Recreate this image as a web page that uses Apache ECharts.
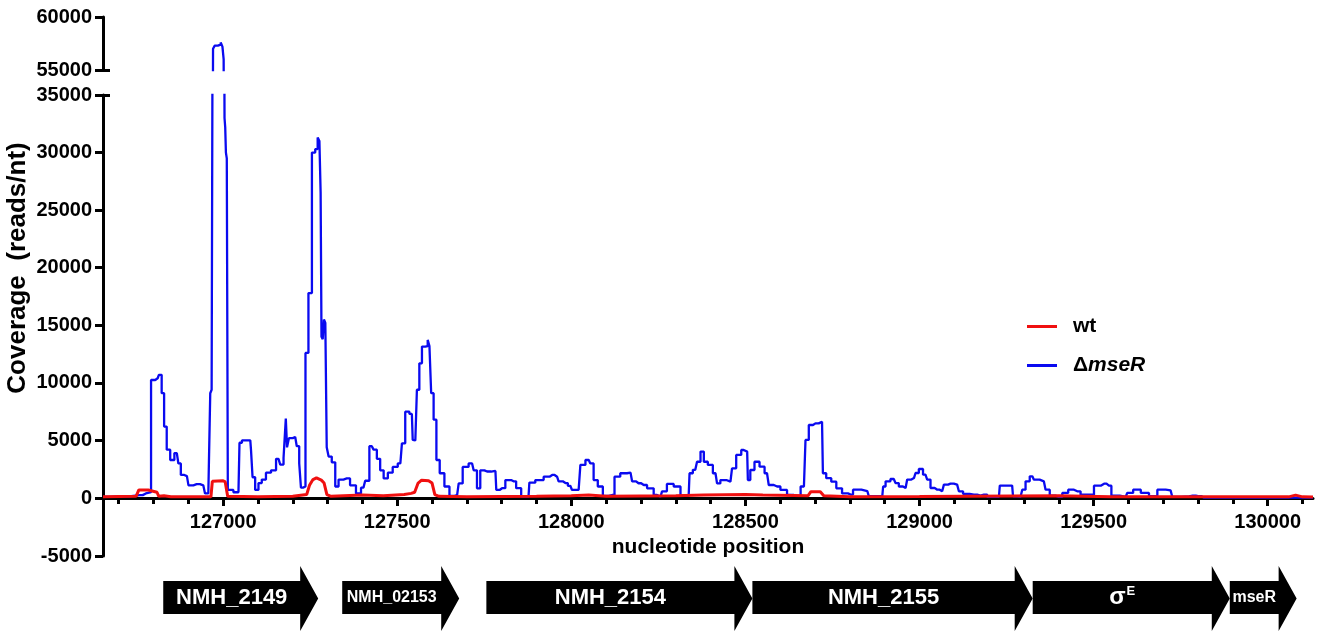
<!DOCTYPE html>
<html><head><meta charset="utf-8">
<script src="https://cdn.jsdelivr.net/npm/echarts@6/dist/echarts.min.js"></script>
<style>html,body{margin:0;padding:0;background:#fff}#c{width:1321px;height:634px}</style>
</head><body><div id="c"></div>
<script>
// ---- data ----
const blueX = [126655,126700,126760,126778,126781,126805,126812,126819,126828,126833,126843,126853,126867,126876,126881,126896,126905,126924,126943,126953,126962,126964,126970,126972,126980,126990,126996,127000,127003,127005,127007,127009,127012,127015,127044,127050,127058,127078,127082,127087,127097,127106,127116,127130,127145,127159,127169,127178,127182,127185,127193,127207,127216,127221,127226,127233,127240,127250,127260,127269,127274,127279,127281,127284,127288,127291,127296,127299,127307,127317,127327,127336,127355,127374,127389,127403,127413,127427,127437,127446,127456,127466,127480,127494,127509,127518,127528,127542,127547,127552,127561,127566,127576,127585,127590,127595,127600,127609,127616,127628,127643,127657,127672,127681,127695,127715,127724,127734,127743,127758,127782,127787,127801,127820,127834,127849,127863,127877,127882,127911,127930,127945,127959,127968,127983,127997,128007,128021,128031,128050,128059,128069,128083,128098,128117,128131,128150,128170,128179,128193,128208,128227,128246,128256,128265,128284,128304,128323,128337,128342,128356,128366,128376,128385,128399,128414,128423,128433,128457,128466,128481,128495,128505,128509,128519,128533,128548,128562,128572,128591,128610,128629,128649,128668,128677,128687,128701,128720,128725,128739,128754,128768,128787,128802,128816,128850,128859,128893,128898,128907,128926,128936,128945,128960,128969,128984,128993,129003,129017,129027,129036,129051,129065,129075,129089,129108,129118,129132,129156,129175,129185,129204,129228,129233,129266,129271,129290,129300,129309,129324,129333,129357,129367,129381,129400,129420,129434,129453,129472,129491,129511,129530,129544,129558,129592,129601,129626,129645,129673,129693,129721,129731,129774,129784,129803,129817,130130];
const blueY = [100,150,250,400,500,10250,10400,10700,9100,6200,4200,3300,3900,3000,2000,1900,1100,1200,1100,400,500,9100,9400,57000,57300,57400,57600,57200,56000,33000,32200,30000,29500,700,500,4800,5000,5000,4200,1800,700,1300,1600,2200,2400,3400,2900,3500,6900,4400,5200,5300,4500,3000,900,1000,12600,17800,30000,30300,31300,31000,26500,14000,13800,15500,15200,4400,3600,3100,1000,1600,1700,1100,400,900,1500,4500,4200,3400,2400,1700,2200,2700,3000,4750,7500,7300,5040,5000,9400,11700,13150,13200,13730,13200,9100,6800,3300,2150,1000,180,250,1270,2700,3000,2400,840,2400,2300,2350,700,850,1560,1450,850,100,100,1330,1560,1850,2000,1850,1450,1300,1060,700,700,2870,3300,3000,1560,1000,180,260,1850,2150,2200,1450,1280,1130,840,260,100,580,1220,1000,200,200,2150,2450,3150,4030,3150,2870,2150,1270,1560,1420,2580,3740,4170,4030,1560,2430,3150,2720,2150,1130,1000,700,260,180,1000,5040,6340,6480,6630,2150,1720,1420,840,400,300,720,600,150,150,1000,1450,1650,1300,1000,870,1600,1730,2170,2520,2030,1600,870,720,580,1160,1250,1160,580,350,290,200,290,90,90,1070,1070,150,90,720,1450,1880,1590,1450,720,200,90,440,720,580,290,290,1070,1240,1070,200,90,440,720,440,150,720,660,90,150,200,150,30,30];
const redX = [126655,126750,126758,126785,126790,126810,126815,126830,126850,126965,126969,127000,127006,127013,127100,127200,127240,127248,127258,127268,127282,127290,127298,127310,127400,127460,127520,127540,127550,127560,127570,127590,127600,127608,127620,127700,127900,128000,128050,128100,128300,128380,128500,128550,128680,128688,128715,128725,128800,129000,129400,129550,130060,130080,130100,130130];
const redY = [100,150,700,700,550,500,150,200,100,100,1450,1500,1400,150,100,150,300,1100,1600,1750,1550,1300,300,150,250,200,300,400,500,1300,1550,1500,1300,300,150,100,150,200,250,150,200,250,300,250,200,550,550,200,100,120,200,100,100,250,100,80];
const xMajorTicks = [127000,127500,128000,128500,129000,129500,130000];
const xMinorTicks = [126700,126800,126900,127000,127100,127200,127300,127400,127500,127600,127700,127800,127900,128000,128100,128200,128300,128400,128500,128600,128700,128800,128900,129000,129100,129200,129300,129400,129500,129600,129700,129800,129900,130000,130100];
const yUpperTicks = [55000,60000];
const yLowerTicks = [0,5000,10000,15000,20000,25000,30000,35000];
const yNegTicks = [-5000];
const geneNames = ['NMH_2149','NMH_02153','NMH_2154','NMH_2155','σE','mseR'];
const geneStart = [126828,127342,127756,128520,129325,129891];
const geneEnd = [127273,127678,128520,129325,129891,130083];
const seriesNames = ['wt','ΔmseR'];

// ---- chart ----
const X_MIN = 126655, X_MAX = 130130;
const FONT = 'Liberation Sans, Arial, Helvetica, sans-serif';
const blueData = blueX.map((x,i)=>[x, blueY[i]]);
const redData = redX.map((x,i)=>[x, redY[i]]);
const geneData = geneNames.map((g,i)=>[geneStart[i], geneEnd[i], i]);
const geneFont = {'NMH_2149':22,'NMH_02153':16,'NMH_2154':22,'NMH_2155':22,'σE':24,'mseR':16};

const chart = echarts.init(document.getElementById('c'), null, {renderer:'canvas'});
const axisLineStyle = {color:'#000', width:3};
const tickStyle = {width:3, color:'#000'};
const labelStyle = {color:'#000', fontSize:20, fontWeight:'bold', fontFamily:FONT, formatter:(v)=>String(v)};
const hiddenX = (g)=>({gridIndex:g, type:'value', min:X_MIN, max:X_MAX, show:false});
const yMain = (g, min, max, ticks)=>({gridIndex:g, type:'value', min:min, max:max,
  axisLine:{show:true, lineStyle:axisLineStyle},
  axisTick:{show:true, customValues:ticks, length:8, lineStyle:tickStyle},
  axisLabel:Object.assign({margin:11, customValues:ticks}, labelStyle),
  splitLine:{show:false}});
const yCap = (g, min, max, v)=>({gridIndex:g, type:'value', min:min, max:max, position:'left',
  axisLine:{show:false}, axisLabel:{show:false}, splitLine:{show:false},
  axisTick:{show:true, inside:true, customValues:[v], length:7, lineStyle:tickStyle}});

chart.setOption({
  animation:false,
  backgroundColor:'#fff',
  grid:[
    {left:103, right:8, top:17, height:53},
    {left:103, right:8, top:95, height:403},
    {left:103, right:8, top:498, height:58},
    {left:103, right:8, top:566, height:65}
  ],
  xAxis:[
    hiddenX(0),
    {gridIndex:1, type:'value', min:X_MIN, max:X_MAX, position:'bottom',
      axisLine:{show:true, onZero:false, lineStyle:axisLineStyle},
      axisTick:{show:true, customValues:xMajorTicks, length:8, lineStyle:tickStyle},
      axisLabel:Object.assign({show:true, customValues:xMajorTicks, margin:14}, labelStyle),
      splitLine:{show:false},
      name:'nucleotide position', nameLocation:'middle', nameGap:38,
      nameTextStyle:{color:'#000', fontSize:21, fontWeight:'bold', fontFamily:FONT}},
    {gridIndex:1, type:'value', min:X_MIN, max:X_MAX, position:'bottom',
      axisLine:{show:false, onZero:false},
      axisTick:{show:true, customValues:xMinorTicks, length:6, lineStyle:tickStyle},
      axisLabel:{show:false}, splitLine:{show:false}},
    hiddenX(2),
    hiddenX(3)
  ],
  yAxis:[
    yMain(0, 55000, 60000, yUpperTicks),
    yCap(0, 55000, 60000, 55000),
    yMain(1, 0, 35000, yLowerTicks),
    yCap(1, 0, 35000, 35000),
    yMain(2, -5000, 0, yNegTicks),
    {gridIndex:3, type:'value', min:0, max:1, show:false}
  ],
  legend:{
    data:[seriesNames[0], seriesNames[1]],
    orient:'vertical', left:1022, top:311,
    icon:'rect', itemWidth:30, itemHeight:3, itemGap:18,
    formatter:(n)=> n === 'ΔmseR' ? '{d|Δ}{i|mseR}' : '{b|' + n + '}',
    textStyle:{padding:[0,0,0,11], rich:{
      b:{fontSize:21, fontWeight:'bold', color:'#000', fontFamily:FONT, lineHeight:22},
      d:{fontSize:21, fontWeight:'bold', color:'#000', fontFamily:FONT, lineHeight:22},
      i:{fontSize:21, fontWeight:'bold', fontStyle:'italic', color:'#000', fontFamily:FONT, lineHeight:22}
    }}
  },
  graphic:[
    {type:'text', x:18, y:268, rotation:Math.PI/2,
      style:{text:'Coverage  (reads/nt)', align:'center', verticalAlign:'middle',
        fill:'#000', font:'bold 26px ' + FONT}}
  ],
  series:[
    {name:'ΔmseR', type:'line', xAxisIndex:0, yAxisIndex:0, data:blueData, showSymbol:false, clip:true, step:'middle',
      lineStyle:{color:'#0a0af0', width:2.3}, itemStyle:{color:'#0a0af0'}, z:3},
    {name:'ΔmseR', type:'line', xAxisIndex:1, yAxisIndex:2, data:blueData, showSymbol:false, clip:true, step:'middle',
      lineStyle:{color:'#0a0af0', width:2.3}, itemStyle:{color:'#0a0af0'}, z:3},
    {name:'wt', type:'line', xAxisIndex:1, yAxisIndex:2, data:redData, showSymbol:false, clip:true,
      lineStyle:{color:'#f01010', width:3}, itemStyle:{color:'#f01010'}, z:4},
    {type:'custom', xAxisIndex:4, yAxisIndex:5, data:geneData, clip:false, silent:true,
      renderItem:(params, api)=>{
        const s = api.coord([api.value(0), 1]);
        const e = api.coord([api.value(1), 0]);
        const x0 = s[0], x1 = e[0], top = s[1], bot = e[1];
        const h = bot - top;
        const bt = top + h*0.23, bb = top + h*0.74;
        const xb = x1 - 18;
        const name = geneNames[api.value(2)];
        const fs = geneFont[name];
        let textStyle;
        if (name === 'σE') {
          textStyle = {text:'{s|σ}{e|E}', x:(x0+xb)/2, y:(bt+bb)/2, align:'center', verticalAlign:'middle',
            rich:{s:{fontSize:24, fontWeight:'bold', fill:'#fff', fontFamily:FONT, lineHeight:26},
                  e:{fontSize:13, fontWeight:'bold', fill:'#fff', fontFamily:FONT, verticalAlign:'top', lineHeight:26, padding:[0,0,12,1]}}};
        } else {
          textStyle = {text:name, x:(x0+xb)/2, y:(bt+bb)/2, align:'center', verticalAlign:'middle',
            fill:'#fff', font:'bold ' + fs + 'px ' + FONT};
        }
        return {type:'group', children:[
          {type:'polygon', shape:{points:[[x0,bt],[xb,bt],[xb,top],[x1,(top+bot)/2],[xb,bot],[xb,bb],[x0,bb]]},
            style:{fill:'#000'}},
          {type:'text', style:textStyle}
        ]};
      }}
  ]
});
</script>
</body></html>
